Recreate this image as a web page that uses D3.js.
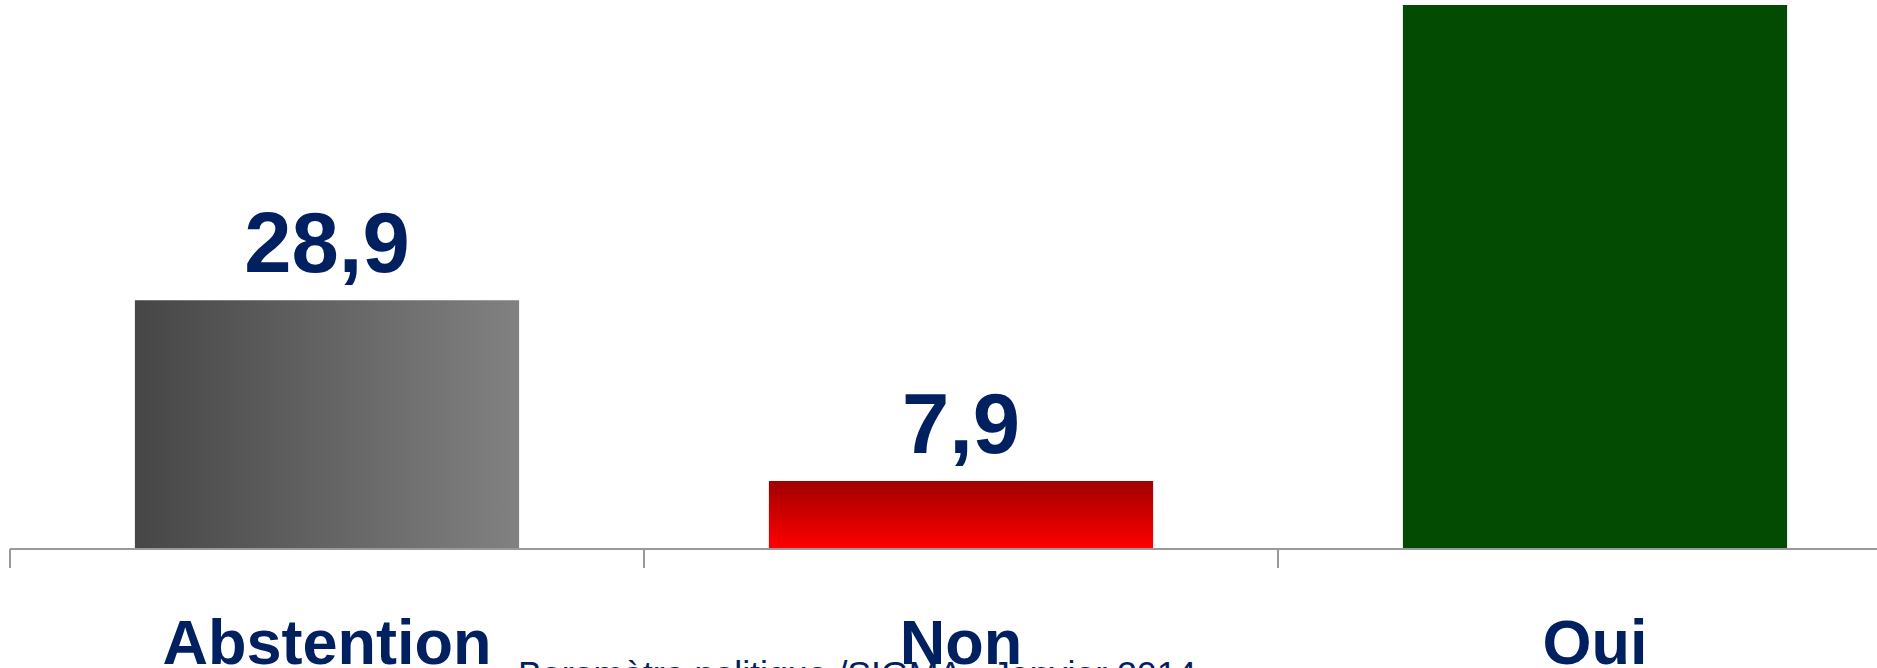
<!DOCTYPE html>
<html>
<head>
<meta charset="utf-8">
<style>
body { margin: 0; background: #fff; }
svg { display: block; }
.value { font: bold 85px "Liberation Sans", Arial, sans-serif; fill: #002060; text-anchor: middle; }
.cat { font: bold 63px "Liberation Sans", Arial, sans-serif; fill: #002060; text-anchor: middle; }
.source { font: 35.7px "Liberation Sans", Arial, sans-serif; fill: #002060; }
.axis line { stroke: #999; stroke-width: 2; }
</style>
</head>
<body>
<svg width="1877" height="668"></svg>
<script src="https://d3js.org/d3.v7.min.js"></script>
<script>

var categories = ["Abstention", "Non", "Oui"];
var values = [28.9, 7.9, 63.2];
var valueLabels = ["28,9", "7,9", "63,2"];
var source = "Baromètre politique /SIGMA - Janvier 2014";

var svg = d3.select("svg");
var fills = ["url(#gradAbst)", "url(#gradNon)", "#034a03"];

var defs = svg.append("defs");
var g1 = defs.append("linearGradient").attr("id", "gradAbst")
  .attr("x1", "0").attr("y1", "0").attr("x2", "1").attr("y2", "0");
g1.append("stop").attr("offset", "0").attr("stop-color", "#464646");
g1.append("stop").attr("offset", "1").attr("stop-color", "#818181");
var g2 = defs.append("linearGradient").attr("id", "gradNon")
  .attr("x1", "0").attr("y1", "0").attr("x2", "0").attr("y2", "1");
g2.append("stop").attr("offset", "0").attr("stop-color", "#a00000");
g2.append("stop").attr("offset", "1").attr("stop-color", "#ff0000");

var base = 549;

var x = d3.scaleBand()
  .domain(categories)
  .range([10, 1912])
  .paddingInner(0.394)
  .paddingOuter(0.197);

var y = d3.scaleLinear()
  .domain([0, d3.max(values)])
  .range([base, 5]);

// source line sits behind the category labels
svg.append("text")
  .attr("class", "source")
  .attr("x", 518)
  .attr("y", 686)
  .text(source);

svg.selectAll(".bar")
  .data(categories)
  .enter().append("rect")
  .attr("class", "bar")
  .attr("x", d => x(d))
  .attr("y", (d, i) => y(values[i]))
  .attr("width", x.bandwidth())
  .attr("height", (d, i) => base - y(values[i]))
  .attr("fill", (d, i) => fills[i]);

svg.selectAll(".value")
  .data(categories)
  .enter().append("text")
  .attr("class", "value")
  .attr("x", d => x(d) + x.bandwidth() / 2)
  .attr("y", (d, i) => y(values[i]) - 28)
  .text((d, i) => valueLabels[i]);

// axis: baseline plus ticks between categories
var axis = svg.append("g").attr("class", "axis");
var edge = x.step() * x.paddingOuter();
axis.append("line")
  .attr("x1", x(categories[0]) - edge).attr("x2", 1877)
  .attr("y1", base).attr("y2", base);
axis.selectAll(".tick")
  .data(categories)
  .enter().append("line")
  .attr("class", "tick")
  .attr("x1", d => x(d) - edge).attr("x2", d => x(d) - edge)
  .attr("y1", base).attr("y2", base + 19);

svg.selectAll(".cat")
  .data(categories)
  .enter().append("text")
  .attr("class", "cat")
  .attr("x", d => x(d) + x.bandwidth() / 2)
  .attr("y", 664)
  .text(d => d);

</script>
</body>
</html>
